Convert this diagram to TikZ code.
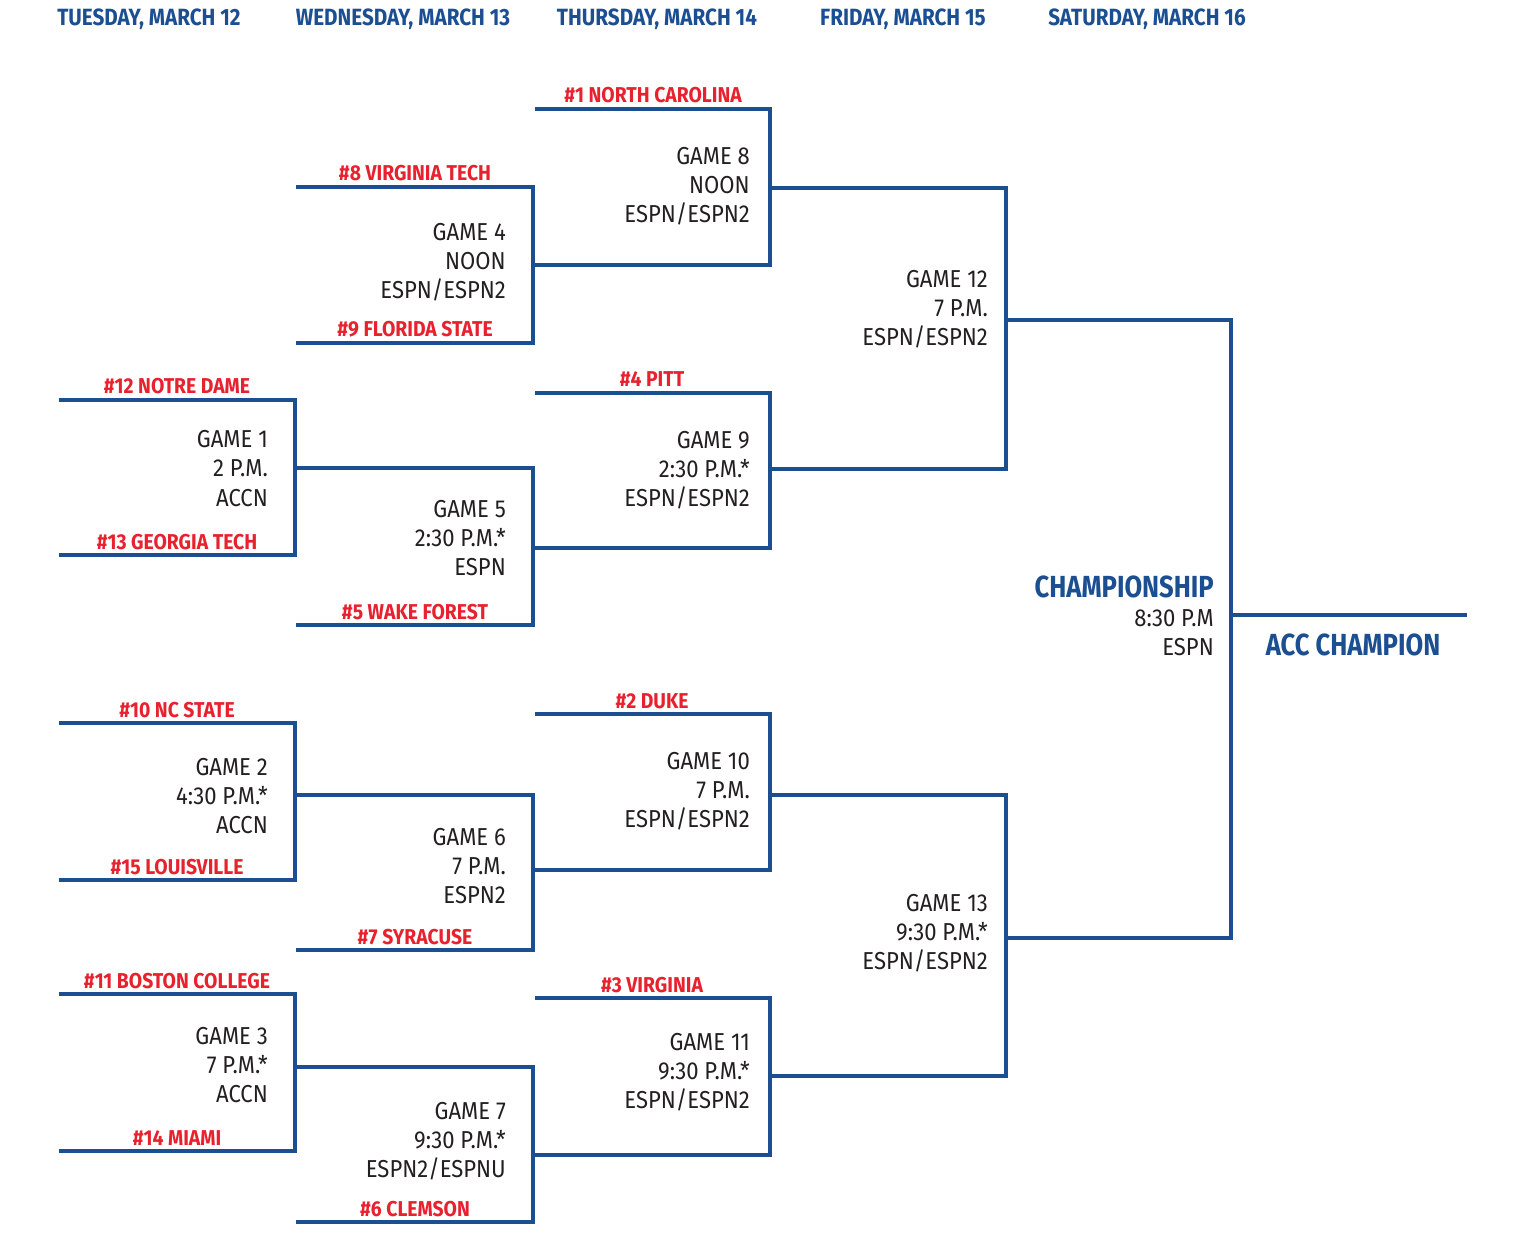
\documentclass[tikz,border=0pt]{standalone}
\usepackage{fontspec}
\setmainfont{Fira Sans}
\newfontfamily\gamefont{Fira Sans}[FakeStretch=0.9]
\newfontfamily\teamfont{Fira Sans}[FakeStretch=0.9]
\newfontfamily\headfont{Fira Sans}[FakeStretch=0.88]
\newfontfamily\bigfont{Fira Sans}[FakeStretch=0.84]
\definecolor{accblue}{HTML}{1B4F91}
\definecolor{accred}{HTML}{E8212E}
\definecolor{txtblack}{HTML}{231F20}
\tikzset{
  bline/.style={draw=accblue,line width=4pt,line join=miter},
  gtext/.style={anchor=base east,inner sep=0pt,text=txtblack,font=\gamefont\fontsize{24.5}{29}\selectfont},
  team/.style={anchor=base,inner sep=0pt,text=accred,font=\teamfont\bfseries\fontsize{21.5}{24}\selectfont},
  dayhead/.style={anchor=base,inner sep=0pt,text=accblue,font=\headfont\bfseries\fontsize{23.5}{26}\selectfont},
  bighead/.style={inner sep=0pt,text=accblue,font=\bigfont\bfseries\fontsize{30.5}{34}\selectfont},
}
\newcommand\gameinfo[6]{%
  \node[gtext] (#1-a) at (#2,#3-21) {#4};
  \node[gtext] (#1-b) at (#2,#3+8) {#5};
  \node[gtext] (#1-c) at (#2,#3+37) {#6};
}
\begin{document}
\begin{tikzpicture}[x=1pt,y=-1pt]
\useasboundingbox[fill=white] (0,0) rectangle (1524,1246);
% headers
\node[dayhead] (h1) at (149,26) {TUESDAY, MARCH 12};
\node[dayhead] (h2) at (403,26) {WEDNESDAY, MARCH 13};
\node[dayhead] (h3) at (657,26) {THURSDAY, MARCH 14};
\node[dayhead] (h4) at (903,26) {FRIDAY, MARCH 15};
\node[dayhead] (h5) at (1147,26) {SATURDAY, MARCH 16};
% coordinates: outputs of each game
\coordinate (o1) at (295,468);
\coordinate (o2) at (295,795);
\coordinate (o3) at (295,1067);
\coordinate (o4) at (533,265);
\coordinate (o5) at (533,548);
\coordinate (o6) at (533,870);
\coordinate (o7) at (533,1155);
\coordinate (o8) at (770,188);
\coordinate (o9) at (770,469);
\coordinate (o10) at (770,795);
\coordinate (o11) at (770,1076);
\coordinate (o12) at (1006,320);
\coordinate (o13) at (1006,938);
\coordinate (o14) at (1231,615);
\coordinate (win) at (1467,615);
% round 1
\draw[bline] (59,400) -- (295,400) -- (295,555) -- (59,555);
\draw[bline] (59,723) -- (295,723) -- (295,880) -- (59,880);
\draw[bline] (59,994) -- (295,994) -- (295,1151) -- (59,1151);
% round 2
\draw[bline] (296,187) -- (533,187) -- (533,343) -- (296,343);
\draw[bline] (o1) -- (533,468) -- (533,625) -- (296,625);
\draw[bline] (o2) -- (533,795) -- (533,950) -- (296,950);
\draw[bline] (o3) -- (533,1067) -- (533,1222) -- (296,1222);
% round 3
\draw[bline] (535,109) -- (770,109) -- (770,265) -- (o4);
\draw[bline] (535,393) -- (770,393) -- (770,548) -- (o5);
\draw[bline] (535,714) -- (770,714) -- (770,870) -- (o6);
\draw[bline] (535,998) -- (770,998) -- (770,1155) -- (o7);
% round 4
\draw[bline] (o8) -- (1006,188) -- (1006,469) -- (o9);
\draw[bline] (o10) -- (1006,795) -- (1006,1076) -- (o11);
% championship
\draw[bline] (o12) -- (1231,320) -- (1231,938) -- (o13);
\draw[bline] (o14) -- (win);
% teams
\node[team] (t1) at (653,103) {\#1 NORTH CAROLINA};
\node[team] (t8) at (415,181) {\#8 VIRGINIA TECH};
\node[team] (t9) at (415,337) {\#9 FLORIDA STATE};
\node[team] (t12) at (177,394) {\#12 NOTRE DAME};
\node[team] (t4) at (652,387) {\#4 PITT};
\node[team] (t13) at (177,549) {\#13 GEORGIA TECH};
\node[team] (t5) at (415,619) {\#5 WAKE FOREST};
\node[team] (t10) at (177,717) {\#10 NC STATE};
\node[team] (t2) at (652,708) {\#2 DUKE};
\node[team] (t15) at (177,874) {\#15 LOUISVILLE};
\node[team] (t7) at (415,944) {\#7 SYRACUSE};
\node[team] (t11) at (177,988) {\#11 BOSTON COLLEGE};
\node[team] (t3) at (652,992) {\#3 VIRGINIA};
\node[team] (t14) at (177,1145) {\#14 MIAMI};
\node[team] (t6) at (415,1216) {\#6 CLEMSON};
% games
\gameinfo{g1}{268}{469}{GAME 1}{2 P.M.}{ACCN}
\gameinfo{g2}{268}{796}{GAME 2}{4:30 P.M.*}{ACCN}
\gameinfo{g3}{268}{1065}{GAME 3}{7 P.M.*}{ACCN}
\gameinfo{g4}{506}{262}{GAME 4}{NOON}{ESPN/ESPN2}
\gameinfo{g5}{506}{538}{GAME 5}{2:30 P.M.*}{ESPN}
\gameinfo{g6}{506}{866}{GAME 6}{7 P.M.}{ESPN2}
\gameinfo{g7}{506}{1140}{GAME 7}{9:30 P.M.*}{ESPN2/ESPNU}
\gameinfo{g8}{750}{186}{GAME 8}{NOON}{ESPN/ESPN2}
\gameinfo{g9}{750}{470}{GAME 9}{2:30 P.M.*}{ESPN/ESPN2}
\gameinfo{g10}{750}{790}{GAME 10}{7 P.M.}{ESPN/ESPN2}
\gameinfo{g11}{750}{1071}{GAME 11}{9:30 P.M.*}{ESPN/ESPN2}
\gameinfo{g12}{988}{309}{GAME 12}{7 P.M.}{ESPN/ESPN2}
\gameinfo{g13}{988}{932}{GAME 13}{9:30 P.M.*}{ESPN/ESPN2}
% championship
\node[bighead,anchor=base east] (champ) at (1214,597) {CHAMPIONSHIP};
\node[gtext] (champ-b) at (1214,626) {8:30 P.M};
\node[gtext] (champ-c) at (1214,655) {ESPN};
\node[bighead,anchor=base] (acc) at (1353,655) {ACC CHAMPION};
\end{tikzpicture}
\end{document}
